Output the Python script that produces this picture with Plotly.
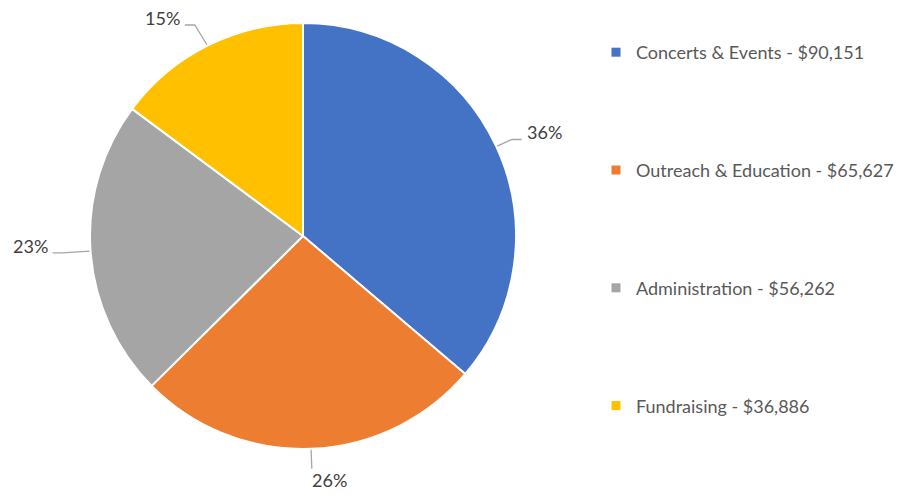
import math
import plotly.graph_objects as go

# ---- data ----
categories = ["Concerts & Events", "Outreach & Education", "Administration", "Fundraising"]
values = [90151, 65627, 56262, 36886]
colors = ["#4472C4", "#ED7D31", "#A5A5A5", "#FFC000"]

# ---- layout constants (window pixels; the page body has an 8px margin) ----
WIN_W, WIN_H = 919, 499
OFF = 8
FW, FH = WIN_W - 2 * OFF, WIN_H - 2 * OFF
cx, cy, R = 303, 236, 213
EXT_L, EXT_R, EXT_V = 28, 17, 20   # leader line radial extension (left / right / vertical)
SEG = 10                           # horizontal elbow length
MIN_ELBOW_Y = 25                   # keep top labels inside the chart
FONT = "Lato, 'Open Sans', sans-serif"


def px(x):
    return (x - OFF) / FW


def py(y):
    return 1 - (y - OFF) / FH


dom_x = [px(cx - R), px(cx + R)]
dom_y = [py(cy + R), py(cy - R)]

fig = go.Figure()
fig.add_trace(go.Pie(
    labels=categories, values=values, sort=False, direction="clockwise", rotation=0,
    marker=dict(colors=colors, line=dict(color="white", width=2)),
    textinfo="none", hoverinfo="label+value+percent", showlegend=False,
    domain=dict(x=dom_x, y=dom_y),
))

# legend entries (one group per category so they can be spaced out)
for cat, val, col in zip(categories, values, colors):
    fig.add_trace(go.Scatter(
        x=[None], y=[None], mode="markers", name=f"{cat} - ${val:,}",
        legendgroup=cat, marker=dict(symbol="square", size=9, color=col),
        hoverinfo="skip",
    ))

# percentage labels with leader lines, computed from the data
total = sum(values)
cum = 0
shapes, annotations = [], []
for val in values:
    frac = val / total
    mid = (cum + frac / 2) * 2 * math.pi
    cum += frac
    s, c = math.sin(mid), -math.cos(mid)
    ex, ey = cx + (R + 1) * s, cy + (R + 1) * c
    label = f"{round(frac * 100)}%"
    lab_font = dict(family=FONT, size=18, color="#404040")
    if abs(s) < 0.2:
        bx, by = cx + (R + EXT_V) * s, cy + (R + EXT_V) * c
        path = f"M {px(ex)},{py(ey)} L {px(bx)},{py(by)}"
        annotations.append(dict(x=px(bx - 2), y=py(by - 2), xref="paper", yref="paper",
                                text=label, showarrow=False, xanchor="left", yanchor="top",
                                font=lab_font))
    else:
        sign = 1 if s > 0 else -1
        ext = EXT_R if sign > 0 else EXT_L
        bx, by = cx + (R + ext) * s, cy + (R + ext) * c
        by = max(by, MIN_ELBOW_Y)
        hx = bx + sign * SEG
        path = f"M {px(ex)},{py(ey)} L {px(bx)},{py(by)} L {px(hx)},{py(by)}"
        annotations.append(dict(x=px(hx + sign * 3), y=py(by + 6), xref="paper", yref="paper",
                                text=label, showarrow=False,
                                xanchor="left" if sign > 0 else "right", yanchor="bottom",
                                font=lab_font))
    shapes.append(dict(type="path", path=path, xref="paper", yref="paper",
                       line=dict(color="#A6A6A6", width=1.3)))

fig.update_layout(
    width=FW, height=FH,
    margin=dict(l=0, r=0, t=0, b=0),
    paper_bgcolor="white", plot_bgcolor="white",
    xaxis=dict(visible=False), yaxis=dict(visible=False),
    shapes=shapes, annotations=annotations,
    legend=dict(
        x=px(596), y=py(34), xanchor="left", yanchor="top",
        traceorder="grouped", tracegroupgap=91.4,
        font=dict(family=FONT, size=18, color="#595959"),
        bgcolor="rgba(0,0,0,0)",
    ),
    font=dict(family=FONT),
)

fig.write_html("out.html")
